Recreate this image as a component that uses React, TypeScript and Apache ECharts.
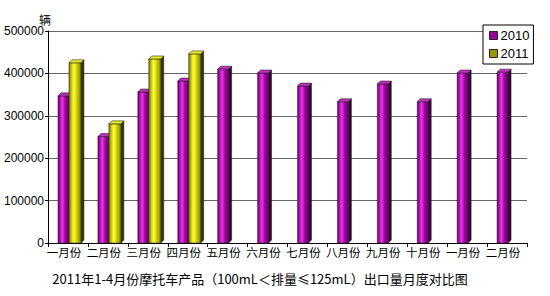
import React, { useEffect, useRef } from "react";
import * as echarts from "echarts";

const categories = ["一月份", "二月份", "三月份", "四月份", "五月份", "六月份", "七月份", "八月份", "九月份", "十月份", "一月份", "二月份"];
const values2010 = [347000, 251000, 356000, 382000, 410000, 401000, 370000, 333000, 375000, 333000, 401000, 403000];
const values2011 = [425000, 281000, 434000, 446000];
const yTicks = { min: 0, max: 500000, interval: 100000 };
const seriesNames = ["2010", "2011"];
const titleText = "2011年1-4月份摩托车产品（100mL＜排量≤125mL）出口量月度对比图";
const unitText = "辆";

const purple = {
  base: "#990099",
  front: [
    { offset: 0, color: "#700070" },
    { offset: 0.12, color: "#A000A0" },
    { offset: 0.4, color: "#E040E0" },
    { offset: 0.65, color: "#A800A8" },
    { offset: 1, color: "#600060" },
  ],
  top: "#C030C0",
  side: "#3A003A",
};
const olive = {
  base: "#999900",
  front: [
    { offset: 0, color: "#707000" },
    { offset: 0.12, color: "#A8A800" },
    { offset: 0.4, color: "#FFFF40" },
    { offset: 0.7, color: "#C8C800" },
    { offset: 1, color: "#808000" },
  ],
  top: "#E8E830",
  side: "#3A3A00",
};

function makeRender(offsetFrac: number, widthFrac: number, pal: any) {
  return (params: any, api: any) => {
    const idx = api.value(0);
    const val = api.value(1);
    const top = api.coord([idx, val]);
    const base = api.coord([idx, 0]);
    const band = api.size([1, 0])[0];
    const x0 = top[0] + offsetFrac * band;
    const w = widthFrac * band;
    const x1 = x0 + w;
    const yT = top[1];
    const yB = base[1];
    const d = 3;
    return {
      type: "group",
      children: [
        {
          type: "polygon",
          shape: { points: [[x1, yT], [x1 + d, yT - d], [x1 + d, yB - d], [x1, yB]] },
          style: { fill: pal.side, stroke: "#111", lineWidth: 0.5 },
        },
        {
          type: "rect",
          shape: { x: x0, y: yT, width: w, height: yB - yT },
          style: {
            fill: new echarts.graphic.LinearGradient(0, 0, 1, 0, pal.front),
            stroke: "#222",
            lineWidth: 0.5,
          },
        },
        {
          type: "polygon",
          shape: { points: [[x0, yT], [x1, yT], [x1 + d, yT - d], [x0 + d, yT - d]] },
          style: { fill: pal.top, stroke: "#111", lineWidth: 0.5 },
        },
      ],
    };
  };
}

export default function App() {
  const ref = useRef<HTMLDivElement>(null);
  useEffect(() => {
    if (!ref.current) return;
    const chart = echarts.init(ref.current, undefined, { renderer: "svg" });
    chart.setOption({
      animation: false,
      backgroundColor: "#fff",
      grid: { left: 48, right: 23, top: 31, bottom: 53 },
      legend: {
        orient: "vertical",
        left: 483,
        top: 25,
        icon: "rect",
        itemWidth: 8,
        itemHeight: 8,
        itemGap: 5,
        padding: [4, 4, 4, 6],
        borderColor: "#000",
        borderWidth: 1,
        backgroundColor: "#fff",
        itemStyle: { borderColor: "#222", borderWidth: 1 },
        textStyle: { fontSize: 13, fontFamily: "Liberation Sans, Arial", color: "#000", padding: [0, 0, 0, -2] },
        data: seriesNames,
      },
      xAxis: {
        type: "category",
        data: categories,
        boundaryGap: true,
        axisLine: { lineStyle: { color: "#000", width: 1 } },
        axisTick: { show: true, length: 4, interval: 0, lineStyle: { color: "#000" } },
        axisLabel: {
          interval: 0,
          fontSize: 11.5,
          fontFamily: "Noto Sans CJK SC",
          color: "#000",
          margin: 3,
          padding: [0, 8, 0, 0],
        },
      },
      yAxis: {
        type: "value",
        min: yTicks.min,
        max: yTicks.max,
        interval: yTicks.interval,
        axisLine: { show: true, lineStyle: { color: "#000", width: 1 } },
        axisTick: { show: true, length: 3, lineStyle: { color: "#000" } },
        axisLabel: {
          fontSize: 12,
          fontFamily: "Liberation Sans, Arial",
          color: "#000",
          margin: 4,
          formatter: (v: number) => String(v),
        },
        splitLine: { show: true, lineStyle: { color: "#666", width: 1 } },
      },
      graphic: [
        {
          type: "text",
          x: 45,
          y: 19,
          style: { text: unitText, fontSize: 12, fontFamily: "Noto Sans CJK SC", fill: "#000", textAlign: "center", textVerticalAlign: "middle" },
        },
        {
          type: "text",
          x: 260,
          y: 278,
          style: { text: titleText, fontSize: 13, fontFamily: "Noto Sans CJK SC", fill: "#000", textAlign: "center", textVerticalAlign: "middle" },
        },
      ],
      series: [
        {
          name: seriesNames[0],
          type: "custom",
          itemStyle: { color: purple.base },
          encode: { x: 0, y: 1 },
          data: values2010.map((v, i) => [i, v]),
          renderItem: makeRender(-0.25, 0.275, purple),
          z: 3,
        },
        {
          name: seriesNames[1],
          type: "custom",
          itemStyle: { color: olive.base },
          encode: { x: 0, y: 1 },
          data: values2011.map((v, i) => [i, v]),
          renderItem: makeRender(0.025, 0.3, olive),
          z: 3,
        },
      ],
    });
    return () => chart.dispose();
  }, []);
  return <div ref={ref} style={{ position: "fixed", left: 0, top: 0, width: 550, height: 296 }} />;
}
